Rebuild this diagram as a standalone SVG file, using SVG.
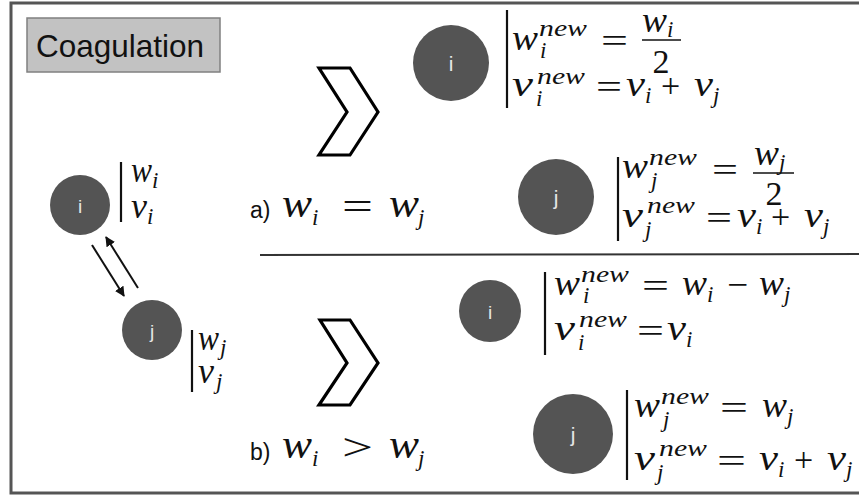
<svg xmlns="http://www.w3.org/2000/svg" width="859" height="496" viewBox="0 0 859 496">
<style>
.m{font-family:"Liberation Serif","Times New Roman",serif;font-style:italic;font-size:35px;fill:#111}
.ml{font-family:"Liberation Serif","Times New Roman",serif;font-style:italic;font-size:39px;fill:#111}
.s{font-family:"Liberation Serif","Times New Roman",serif;font-style:italic;font-size:23px;fill:#111}
.r{font-family:"Liberation Serif","Times New Roman",serif;font-size:34px;fill:#111}
.rl{font-family:"Liberation Serif","Times New Roman",serif;font-size:38px;fill:#111}
.t{font-family:"Liberation Sans",Arial,sans-serif;fill:#111}
.node{fill:#545454}
.nl{font-family:"Liberation Sans",Arial,sans-serif;fill:#e6e6e6;text-anchor:middle}
.bar{stroke:#111;stroke-width:2.2}
.chev{fill:#fff;stroke:#000;stroke-width:3.2;stroke-linejoin:miter}
.conn{stroke:#111;stroke-width:2;fill:none}
</style>
<defs>
<marker id="ah" viewBox="0 0 10 10" refX="9" refY="5" markerWidth="5" markerHeight="5" orient="auto">
<path d="M0,0 L10,5 L0,10 z" fill="#111"/>
</marker>
</defs>
<rect x="0" y="0" width="859" height="496" fill="#fff"/>
<rect x="11" y="3" width="870" height="490" fill="none" stroke="#555" stroke-width="3"/>

<g id="title">
<rect x="27" y="18" width="193" height="54" fill="#c2c2c2" stroke="#808080" stroke-width="1.5"/>
<text class="t" x="36" y="57" font-size="32" textLength="168" lengthAdjust="spacingAndGlyphs">Coagulation</text>
</g>

<g id="node-i-left">
<circle class="node" cx="80" cy="205" r="30"/>
<text class="nl" x="80" y="213" font-size="19">i</text>
<line class="bar" x1="121" y1="162" x2="121" y2="222"/>
<text class="m" x="131" y="182" font-size="30" textLength="21" lengthAdjust="spacingAndGlyphs">w</text>
<text class="s" x="152" y="188" font-size="20">i</text>
<text class="m" x="131" y="218" font-size="30" textLength="16" lengthAdjust="spacingAndGlyphs">v</text>
<text class="s" x="147" y="224" font-size="20">i</text>
</g>

<g id="node-j-left">
<circle class="node" cx="152" cy="330" r="30"/>
<text class="nl" x="152" y="338" font-size="19">j</text>
<line class="bar" x1="192" y1="330" x2="192" y2="392"/>
<text class="m" x="198" y="350" font-size="30" textLength="21" lengthAdjust="spacingAndGlyphs">w</text>
<text class="s" x="220" y="355" font-size="20">j</text>
<text class="m" x="198" y="383" font-size="30" textLength="16" lengthAdjust="spacingAndGlyphs">v</text>
<text class="s" x="216" y="389" font-size="20">j</text>
</g>

<g id="connectors">
<line class="conn" x1="92" y1="245" x2="124" y2="296" marker-end="url(#ah)"/>
<line class="conn" x1="138" y1="288" x2="106" y2="237" marker-end="url(#ah)"/>
</g>

<g id="chevron-a">
<polygon class="chev" points="319,68 350,68 378,112 350,155 319,155 347,112"/>
</g>
<g id="chevron-b">
<polygon class="chev" points="320,320 350,320 378,363 350,405 319,405 347,363"/>
</g>

<g id="divider">
<line x1="260" y1="255" x2="859" y2="254" stroke="#333" stroke-width="2"/>
</g>

<g id="case-a">
<text class="t" x="250" y="218" font-size="23">a)</text>
<text class="ml" x="282" y="217" textLength="30" lengthAdjust="spacingAndGlyphs">w</text>
<text class="s" x="312" y="225" font-size="24">i</text>
<text class="rl" x="342" y="219" textLength="31" lengthAdjust="spacingAndGlyphs">=</text>
<text class="ml" x="389" y="217" textLength="30" lengthAdjust="spacingAndGlyphs">w</text>
<text class="s" x="418" y="225" font-size="24">j</text>
</g>

<g id="case-b">
<text class="t" x="250" y="460" font-size="23">b)</text>
<text class="ml" x="282" y="458" textLength="30" lengthAdjust="spacingAndGlyphs">w</text>
<text class="s" x="312" y="466" font-size="24">i</text>
<text class="rl" x="342" y="460" textLength="31" lengthAdjust="spacingAndGlyphs">&gt;</text>
<text class="ml" x="389" y="458" textLength="30" lengthAdjust="spacingAndGlyphs">w</text>
<text class="s" x="418" y="466" font-size="24">j</text>
</g>

<g id="result-a-i">
<circle class="node" cx="451" cy="63" r="38"/>
<text class="nl" x="451" y="71" font-size="21">i</text>
<line class="bar" x1="507" y1="10" x2="507" y2="108"/>
<text class="m" x="512" y="50" textLength="26" lengthAdjust="spacingAndGlyphs">w</text>
<text class="s" x="539" y="36" textLength="48" lengthAdjust="spacingAndGlyphs">new</text>
<text class="s" x="540" y="58">i</text>
<text class="r" x="601" y="52" textLength="27" lengthAdjust="spacingAndGlyphs">=</text>
<text class="m" x="642" y="32" textLength="25" lengthAdjust="spacingAndGlyphs">w</text>
<text class="s" x="667" y="37">i</text>
<line x1="642" y1="40" x2="681" y2="40" stroke="#111" stroke-width="1.6"/>
<text class="r" x="661" y="73" text-anchor="middle">2</text>
<text class="m" x="512" y="96" textLength="21" lengthAdjust="spacingAndGlyphs">v</text>
<text class="s" x="537" y="84" textLength="48" lengthAdjust="spacingAndGlyphs">new</text>
<text class="s" x="536" y="106">i</text>
<text class="r" x="596" y="98" textLength="26" lengthAdjust="spacingAndGlyphs">=</text>
<text class="m" x="626" y="96" textLength="19" lengthAdjust="spacingAndGlyphs">v</text>
<text class="s" x="645" y="103">i</text>
<text class="r" x="661" y="97">+</text>
<text class="m" x="694" y="96" textLength="19" lengthAdjust="spacingAndGlyphs">v</text>
<text class="s" x="713" y="103">j</text>
</g>

<g id="result-a-j">
<circle class="node" cx="556" cy="197" r="38"/>
<text class="nl" x="556" y="205" font-size="21">j</text>
<line class="bar" x1="618" y1="157" x2="618" y2="241"/>
<text class="m" x="622" y="178" textLength="26" lengthAdjust="spacingAndGlyphs">w</text>
<text class="s" x="649" y="165" textLength="48" lengthAdjust="spacingAndGlyphs">new</text>
<text class="s" x="651" y="188">j</text>
<text class="r" x="712" y="181" textLength="26" lengthAdjust="spacingAndGlyphs">=</text>
<text class="m" x="754" y="165" textLength="25" lengthAdjust="spacingAndGlyphs">w</text>
<text class="s" x="779" y="170">j</text>
<line x1="753" y1="173" x2="794" y2="173" stroke="#111" stroke-width="1.6"/>
<text class="r" x="774" y="205" text-anchor="middle">2</text>
<text class="m" x="622" y="227" textLength="21" lengthAdjust="spacingAndGlyphs">v</text>
<text class="s" x="647" y="213" textLength="48" lengthAdjust="spacingAndGlyphs">new</text>
<text class="s" x="645" y="237">j</text>
<text class="r" x="706" y="229" textLength="26" lengthAdjust="spacingAndGlyphs">=</text>
<text class="m" x="737" y="227" textLength="19" lengthAdjust="spacingAndGlyphs">v</text>
<text class="s" x="756" y="234">i</text>
<text class="r" x="771" y="228">+</text>
<text class="m" x="804" y="227" textLength="19" lengthAdjust="spacingAndGlyphs">v</text>
<text class="s" x="823" y="234">j</text>
</g>

<g id="result-b-i">
<circle class="node" cx="490" cy="311" r="31"/>
<text class="nl" x="490" y="319" font-size="19">i</text>
<line class="bar" x1="545" y1="272" x2="545" y2="355"/>
<text class="m" x="554" y="295" textLength="26" lengthAdjust="spacingAndGlyphs">w</text>
<text class="s" x="581" y="282" textLength="48" lengthAdjust="spacingAndGlyphs">new</text>
<text class="s" x="583" y="303">i</text>
<text class="r" x="642" y="297" textLength="27" lengthAdjust="spacingAndGlyphs">=</text>
<text class="m" x="682" y="295" textLength="25" lengthAdjust="spacingAndGlyphs">w</text>
<text class="s" x="707" y="302">i</text>
<text class="r" x="727" y="296" textLength="21" lengthAdjust="spacingAndGlyphs">−</text>
<text class="m" x="759" y="295" textLength="25" lengthAdjust="spacingAndGlyphs">w</text>
<text class="s" x="784" y="302">j</text>
<text class="m" x="554" y="340" textLength="21" lengthAdjust="spacingAndGlyphs">v</text>
<text class="s" x="579" y="327" textLength="48" lengthAdjust="spacingAndGlyphs">new</text>
<text class="s" x="578" y="350">i</text>
<text class="r" x="637" y="342" textLength="27" lengthAdjust="spacingAndGlyphs">=</text>
<text class="m" x="667" y="340" textLength="19" lengthAdjust="spacingAndGlyphs">v</text>
<text class="s" x="686" y="347">i</text>
</g>

<g id="result-b-j">
<circle class="node" cx="573" cy="434" r="40"/>
<text class="nl" x="573" y="442" font-size="21">j</text>
<line class="bar" x1="627" y1="390" x2="627" y2="480"/>
<text class="m" x="634" y="417" textLength="26" lengthAdjust="spacingAndGlyphs">w</text>
<text class="s" x="661" y="404" textLength="48" lengthAdjust="spacingAndGlyphs">new</text>
<text class="s" x="663" y="427">j</text>
<text class="r" x="720" y="419" textLength="28" lengthAdjust="spacingAndGlyphs">=</text>
<text class="m" x="762" y="417" textLength="25" lengthAdjust="spacingAndGlyphs">w</text>
<text class="s" x="787" y="424">j</text>
<text class="m" x="634" y="470" textLength="21" lengthAdjust="spacingAndGlyphs">v</text>
<text class="s" x="659" y="456" textLength="48" lengthAdjust="spacingAndGlyphs">new</text>
<text class="s" x="657" y="480">j</text>
<text class="r" x="717" y="472" textLength="29" lengthAdjust="spacingAndGlyphs">=</text>
<text class="m" x="759" y="470" textLength="19" lengthAdjust="spacingAndGlyphs">v</text>
<text class="s" x="778" y="477">i</text>
<text class="r" x="794" y="471">+</text>
<text class="m" x="827" y="470" textLength="19" lengthAdjust="spacingAndGlyphs">v</text>
<text class="s" x="846" y="477">j</text>
</g>
</svg>
